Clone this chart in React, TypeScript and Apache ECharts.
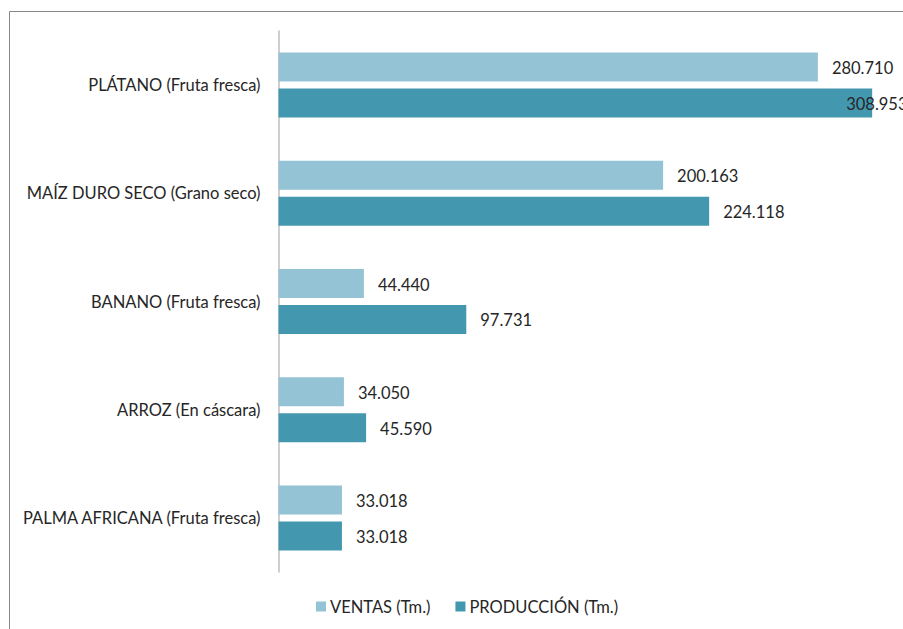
import React, { useEffect, useRef } from "react";
import * as echarts from "echarts";

const categories = [
  "PLÁTANO (Fruta fresca)",
  "MAÍZ DURO SECO (Grano seco)",
  "BANANO (Fruta fresca)",
  "ARROZ (En cáscara)",
  "PALMA AFRICANA (Fruta fresca)",
];
const ventas = [280710, 200163, 44440, 34050, 33018];
const produccion = [308953, 224118, 97731, 45590, 33018];
const seriesNames = ["VENTAS (Tm.)", "PRODUCCIÓN (Tm.)"];

const fmt = (v: number) => {
  const s = Math.round(v).toString();
  return s.replace(/\B(?=(\d{3})+(?!\d))/g, ".");
};

const FONT = "Lato";
const FS = 16.5;

export default function App() {
  const ref = useRef<HTMLDivElement>(null);
  useEffect(() => {
    if (!ref.current) return;
    const chart = echarts.init(ref.current, null, { renderer: "svg" });
    const labelBase = {
      show: true,
      position: "right" as const,
      distance: 14,
      offset: [0, 1],
      color: "#262626",
      fontFamily: FONT,
      fontSize: FS,
      formatter: (p: any) => fmt(p.value),
    };
    chart.setOption({
      animation: false,
      backgroundColor: "#ffffff",
      graphic: [
        {
          type: "rect",
          shape: { x: 9.5, y: 11.5, width: 1000, height: 700 },
          style: { fill: "none", stroke: "#878787", lineWidth: 1 },
          silent: true,
        },
      ],
      grid: { left: 278.5, right: 0, top: 31, height: 541 },
      xAxis: {
        type: "value",
        min: 0,
        max: 325000,
        show: false,
        splitLine: { show: false },
      },
      yAxis: {
        type: "category",
        data: categories,
        inverse: true,
        axisLine: { show: true, lineStyle: { color: "#BFBFBF", width: 1.5 } },
        axisTick: { show: false },
        axisLabel: {
          margin: 18,
          color: "#262626",
          fontFamily: FONT,
          fontSize: FS,
        },
      },
      legend: {
        data: seriesNames,
        bottom: 9,
        left: 311,
        itemWidth: 10,
        itemHeight: 10,
        itemGap: 25,
        icon: "rect",
        textStyle: { color: "#262626", fontFamily: FONT, fontSize: FS, padding: [0, 0, 0, -1] },
      },
      series: [
        {
          name: seriesNames[0],
          type: "bar",
          data: ventas,
          barWidth: 29,
          barGap: "24%",
          itemStyle: { color: "#93C3D5" },
          label: labelBase,
        },
        {
          name: seriesNames[1],
          type: "bar",
          data: produccion.map((v, i) =>
            i === 0 ? { value: v, label: { offset: [-40, 1] } } : v
          ),
          barWidth: 29,
          barGap: "24%",
          itemStyle: { color: "#4398AF" },
          label: labelBase,
        },
      ],
    });
    return () => chart.dispose();
  }, []);
  return (
    <div
      ref={ref}
      style={{ position: "fixed", left: 0, top: 0, width: 903, height: 629 }}
    />
  );
}
